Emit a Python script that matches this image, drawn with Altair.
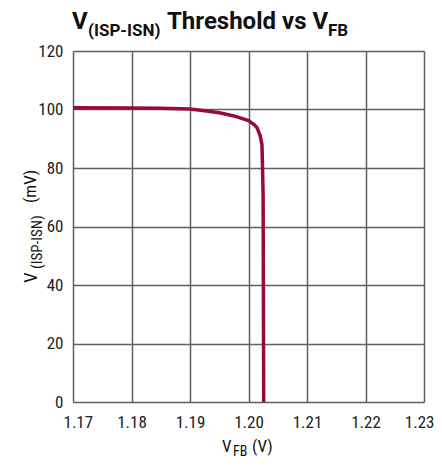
import altair as alt
import pandas as pd

# Data
vfb = [1.170, 1.180, 1.185, 1.190, 1.1925, 1.195, 1.1975, 1.200, 1.201, 1.2015,
       1.202, 1.2023, 1.2024, 1.2025, 1.2026]
vth = [100.6, 100.55, 100.45, 100.2, 99.6, 98.9, 97.8, 96.2, 94.8, 93.6,
       91.0, 88.0, 80.0, 70.0, 0.0]

x_ticks = [1.17, 1.18, 1.19, 1.20, 1.21, 1.22, 1.23]
y_ticks = [0, 20, 40, 60, 80, 100, 120]

FONT = "Roboto Condensed, Roboto, sans-serif"
TFONT = "Roboto, sans-serif"
W, H = 351, 351

df = pd.DataFrame({"vfb": vfb, "vth": vth})

line = alt.Chart(df).mark_line(color="#9a0a36", strokeWidth=3.5).encode(
    x=alt.X("vfb:Q", scale=alt.Scale(domain=[1.17, 1.23], nice=False, zero=False),
            axis=alt.Axis(values=x_ticks, format=".2f", title=None, grid=True,
                          gridColor="#606060", gridWidth=1.5, ticks=False, domain=False,
                          labelFont=FONT, labelFontSize=17, labelColor="#222",
                          labelPadding=12, labelFlush=True, labelFlushOffset=10)),
    y=alt.Y("vth:Q", scale=alt.Scale(domain=[0, 120], nice=False),
            axis=alt.Axis(values=y_ticks, title=None, grid=True,
                          gridColor="#606060", gridWidth=1.5, ticks=False, domain=False,
                          labelFont=FONT, labelFontSize=17, labelColor="#222",
                          labelPadding=10)),
    order="vfb:Q",
)

def txt(s, x, y, size, bold=False, angle=0, font=FONT):
    d = pd.DataFrame({"t": [s]})
    kw = dict(font=font, fontSize=size, align="left", baseline="alphabetic",
              color="#111", fontWeight="bold" if bold else "normal")
    if angle:
        kw["angle"] = angle
    return alt.Chart(d).mark_text(**kw).encode(
        text="t:N", x=alt.value(x), y=alt.value(y))

layers = [
    line,
    # title
    txt("V", -1, -22, 24, True, font=TFONT),
    txt("(ISP-ISN)", 15, -15, 17, True, font=TFONT),
    txt("Threshold vs V", 94, -22, 24, True, font=TFONT),
    txt("FB", 255, -15, 17, True, font=TFONT),
    # x-axis title
    txt("V", 149, 401, 17),
    txt("FB", 160, 405, 14),
    txt("(V)", 179, 401, 17),
    # y-axis title
    txt("V", -36, 232, 19, angle=270),
    txt("(ISP-ISN)", -31, 218, 15, angle=270),
    txt("(mV)", -37, 152, 17, angle=270),
]

chart = alt.layer(*layers).properties(
    width=W, height=H,
    autosize=alt.AutoSizeParams(type="none"),
    padding={"left": 65, "top": 43, "right": 10, "bottom": 56},
).configure_view(stroke="#000", strokeWidth=2).configure(background="white")

chart.save("out.html", embed_options={"renderer": "svg", "actions": False})
